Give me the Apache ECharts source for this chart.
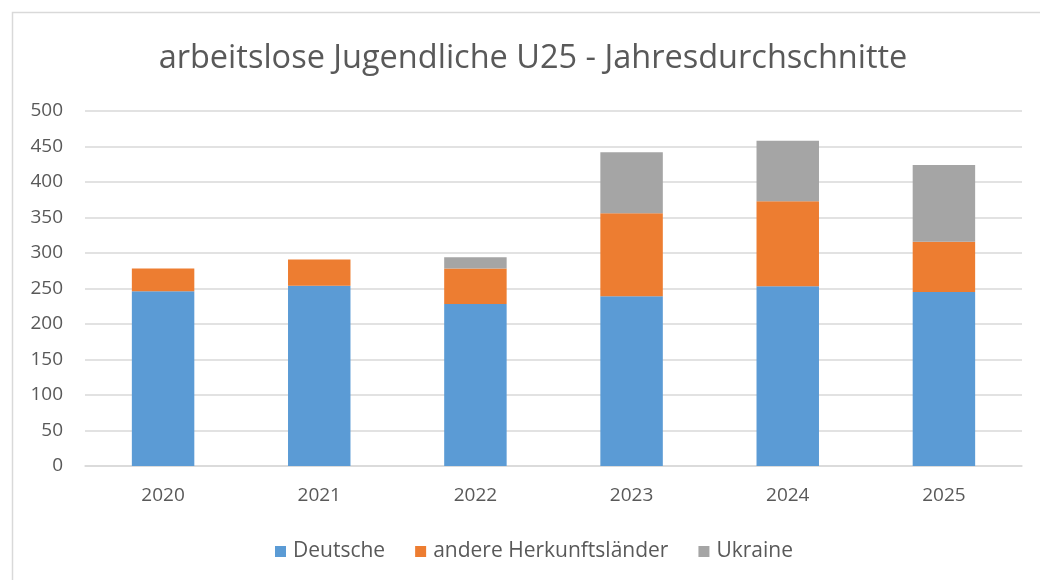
<!DOCTYPE html>
<html>
<head>
<meta charset="utf-8">
<title>arbeitslose Jugendliche U25</title>
<script src="https://cdn.jsdelivr.net/npm/echarts@6/dist/echarts.min.js"></script>
<style>
  html, body { margin: 0; padding: 0; background: #fff; }
  #chart { width: 1040px; height: 580px; }
</style>
</head>
<body>
<div id="chart"></div>
<script>
// Jahre (Kategorien)
var years = ["2020", "2021", "2022", "2023", "2024", "2025"];
// Werte je Herkunft
var deutsche = [246, 254, 228, 239, 253, 245];
var andere = [32, 37, 50, 117, 120, 71];
var ukraine = [0, 0, 16, 86, 85, 108];
// Achse
var yTicks = [0, 50, 100, 150, 200, 250, 300, 350, 400, 450, 500];

var font = "'Open Sans', sans-serif";
var textColor = "#595959";

var chart = echarts.init(document.getElementById("chart"));

function barSeries(name, data, color) {
  return {
    name: name,
    type: "bar",
    stack: "total",
    barWidth: "40%",
    itemStyle: { color: color },
    data: data
  };
}

chart.setOption({
  animation: false,
  textStyle: { fontFamily: font },
  title: {
    text: "arbeitslose Jugendliche U25 - Jahresdurchschnitte",
    left: 528,
    textAlign: "center",
    top: 37,
    textStyle: { fontFamily: font, fontSize: 32.5, fontWeight: "normal", color: textColor }
  },
  graphic: [{
    type: "rect",
    shape: { x: 12.5, y: 12.5, width: 1100, height: 700 },
    style: { fill: "none", stroke: "#d9d9d9", lineWidth: 1.5 },
    silent: true
  }],
  legend: {
    top: 536,
    left: 270,
    itemWidth: 11,
    itemHeight: 11,
    itemGap: 30,
    icon: "rect",
    textStyle: { fontFamily: font, fontSize: 21, color: textColor, padding: [0, 0, 0, 2] },
    data: ["Deutsche", "andere Herkunftsländer", "Ukraine"]
  },
  grid: { left: 85, right: 18, top: 111, bottom: 114 },
  xAxis: {
    type: "category",
    data: years,
    axisTick: { show: false },
    axisLine: { lineStyle: { color: "#d9d9d9", width: 1.5 } },
    axisLabel: { fontFamily: font, fontSize: 19, color: textColor, margin: 20 }
  },
  yAxis: {
    type: "value",
    min: yTicks[0],
    max: yTicks[yTicks.length - 1],
    interval: 50,
    axisLine: { show: false },
    axisTick: { show: false },
    splitLine: { lineStyle: { color: "#d9d9d9", width: 1.5 } },
    axisLabel: { fontFamily: font, fontSize: 19, color: textColor, margin: 22 }
  },
  series: [
    barSeries("Deutsche", deutsche, "#5B9BD5"),
    barSeries("andere Herkunftsländer", andere, "#ED7D31"),
    barSeries("Ukraine", ukraine, "#A5A5A5")
  ]
});
</script>
</body>
</html>
